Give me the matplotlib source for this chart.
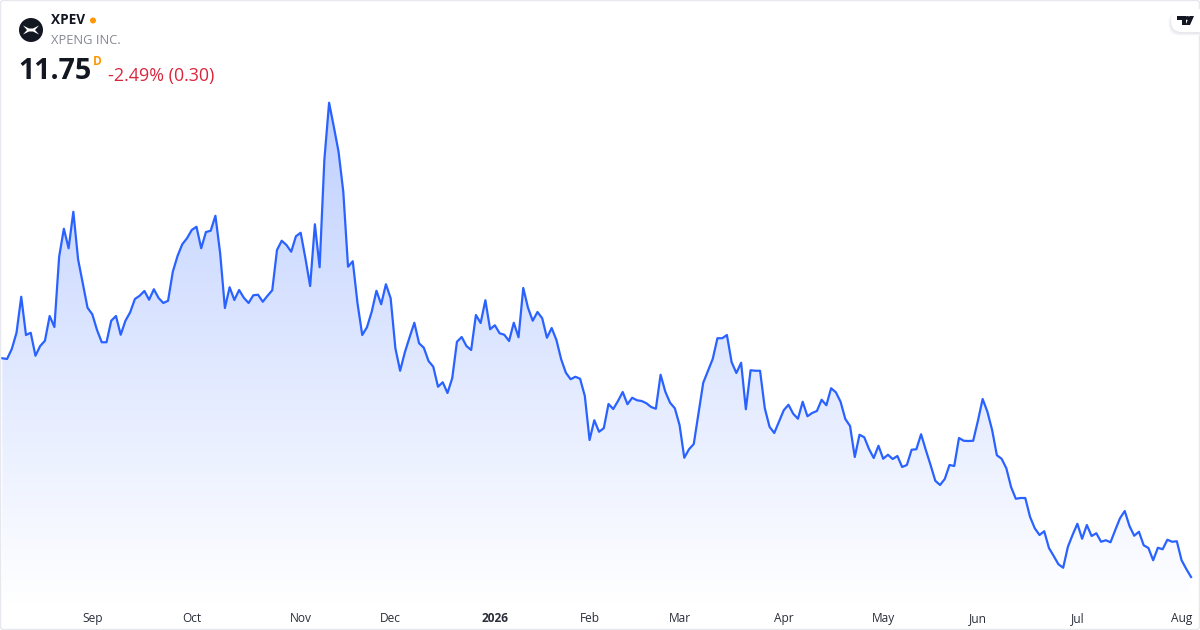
import matplotlib
matplotlib.use('Agg')
import matplotlib.pyplot as plt
import numpy as np
from matplotlib.colors import LinearSegmentedColormap
from matplotlib.patches import Circle, FancyBboxPatch, Polygon

plt.rcParams['font.family'] = ['Open Sans', 'DejaVu Sans']

ticker = 'XPEV'
company = 'XPENG INC.'
last_price = '11.75'
interval = 'D'
change_text = '-2.49% (0.30)'

# daily closes
prices_1 = [20.50, 20.47, 20.87, 21.52, 22.96, 21.43, 21.52, 20.60, 20.99, 21.20, 22.19, 21.75, 24.56,
            25.68, 24.90, 26.36, 24.46, 23.50, 22.52, 22.26, 21.63, 21.14, 21.14, 22.00, 22.19, 21.44,
            22.00, 22.34, 22.87, 23.00, 23.19, 22.84, 23.26, 22.91, 22.71, 22.80, 23.96, 24.59, 25.06,
            25.30, 25.63, 25.76, 24.90, 25.55, 25.60, 26.20, 24.70, 22.51, 23.34, 22.83, 23.23, 22.92,
            22.71, 23.02, 23.04, 22.76, 23.00, 23.22, 24.83, 25.20, 25.03, 24.76, 25.38, 25.52]
prices_2 = [24.50, 23.39, 25.86, 24.14, 28.43, 30.72, 29.76, 28.76, 27.16, 24.16, 24.38, 22.70, 21.43,
            21.74, 22.36, 23.20, 22.66, 23.46, 22.90, 20.90, 20.00, 20.74, 21.34, 21.92, 21.10, 20.92,
            20.39, 20.16, 19.36, 19.54, 19.11, 19.70, 21.16, 21.35, 20.99, 20.83, 22.23, 21.91, 22.82,
            21.66, 21.82, 21.50, 21.44, 21.19, 21.92, 21.34, 23.31, 22.52, 22.00, 22.35, 22.10, 21.32,
            21.71, 21.23, 20.46, 19.92, 19.66, 19.76, 19.68, 18.99, 17.23, 18.02, 17.56]
prices_3 = [17.70, 18.67, 18.47, 18.79, 19.15, 18.66, 18.92, 18.82, 18.79, 18.70, 18.55, 18.48, 19.84,
            19.16, 18.72, 18.50, 17.83, 16.52, 16.86, 17.07, 18.30, 19.52, 20.00, 20.47, 21.30, 21.30,
            21.43, 20.34, 19.91, 20.32, 18.46, 20.02, 20.00, 20.00, 18.50, 17.76, 17.51, 17.96, 18.42,
            18.64, 18.28, 18.08, 18.76, 18.18, 18.31, 18.39, 18.84, 18.62, 19.30, 19.14, 18.76, 18.07,
            17.79, 16.55, 17.44, 17.34, 16.87, 16.51, 17.00, 16.48, 16.64, 16.47, 16.59]
prices_4 = [16.15, 16.23, 16.84, 16.86, 17.46, 16.83, 16.23, 15.60, 15.43, 15.67, 16.23, 16.19, 17.31,
            17.20, 17.19, 17.20, 18.00, 18.87, 18.36, 17.63, 16.62, 16.48, 16.10, 15.35, 14.88, 14.91,
            14.91, 14.16, 13.70, 13.43, 13.58, 12.91, 12.59, 12.26, 12.12, 12.96, 13.44, 13.88, 13.28,
            13.83, 13.39, 13.50, 13.16, 13.22, 13.14, 13.63, 14.10, 14.39, 13.79, 13.40, 13.56, 13.02,
            12.91, 12.42, 12.92, 12.86, 13.24, 13.16, 13.18, 12.42, 12.07, 11.75]
prices = prices_1 + prices_2 + prices_3 + prices_4

tick_days = [19, 40, 63, 82, 104, 124, 143, 165, 186, 206, 227, 249]
tick_labels = ['Sep', 'Oct', 'Nov', 'Dec', '2026', 'Feb', 'Mar', 'Apr', 'May', 'Jun', 'Jul', 'Aug']

days = np.arange(len(prices))

W, H = 1200, 630
step = 4.736
y_min, y_max = 10.71, 34.83
fig = plt.figure(figsize=(12, 6.3), dpi=100, facecolor='white')

# chart axes, one trading day = 4.736px
ax = fig.add_axes([0, 27 / H, 1, (H - 27) / H])
ax.patch.set_visible(False)
for s in ax.spines.values():
    s.set_visible(False)
ax.set_yticks([])
ax.set_xticks(tick_days)
ax.set_xticklabels(tick_labels, fontsize=8.6, color='#2a2e39')
ax.tick_params(axis='x', length=0, pad=6.7)
for lab in ax.get_xticklabels():
    if lab.get_text() == '2026':
        lab.set_fontweight('bold')

# gradient area under the line
cmap = LinearSegmentedColormap.from_list('area', ['#ffffff', '#bfd0ff'])
grad = np.linspace(0, 1, 256).reshape(-1, 1)
img = ax.imshow(grad, origin='lower', aspect='auto', cmap=cmap, vmin=0, vmax=1,
                extent=[days[0], days[-1], y_min, max(prices)], zorder=1)
verts = [(days[0], y_min)] + list(zip(days, prices)) + [(days[-1], y_min)]
poly = Polygon(verts, closed=True, transform=ax.transData, facecolor='none', edgecolor='none')
ax.add_patch(poly)
img.set_clip_path(poly)

ax.plot(days, prices, color='#2962ff', lw=1.6, solid_joinstyle='round', zorder=2)
ax.set_xlim(-2.3 / step, (W - 2.3) / step)
ax.set_ylim(y_min, y_max)

# overlay in pixel coordinates for the header, logos and frame
ov = fig.add_axes([0, 0, 1, 1], zorder=5)
ov.set_xlim(0, W)
ov.set_ylim(H, 0)
ov.axis('off')

ov.add_patch(FancyBboxPatch((0.5, 0.5), W - 1, H - 1, boxstyle='round,pad=0,rounding_size=3',
                            fc='none', ec='#e6e8ee', lw=1))

# symbol logo
ov.add_patch(Circle((31, 30), 12, fc='#131722', ec='none'))
ov.add_patch(Polygon([(23, 25.5), (29, 28.5), (33, 28.5), (39, 25.5), (35, 30), (39, 34.5), (33, 31.5),
                      (29, 31.5), (23, 34.5), (27, 30)], closed=True, fc='white', ec='none'))

ov.text(51, 20.5, ticker, fontsize=9.8, fontweight='bold', color='#131722', va='center', ha='left')
ov.add_patch(Circle((93, 20.5), 3, fc='#ff9800', ec='none'))
ov.text(51, 41, company, fontsize=9.3, color='#868993', va='center', ha='left')
ov.text(18, 71.5, last_price, fontsize=20.6, fontweight='bold', color='#131722', va='center', ha='left')
ov.text(93, 61.5, interval, fontsize=8.6, fontweight='bold', color='#ff9800', va='center', ha='left')
ov.text(108, 75.5, change_text, fontsize=12.85, color='#d9263d', va='center', ha='left')

# tradingview badge
for off, col in [(5, '#f8f8fa'), (3, '#f1f1f4'), (1.5, '#e9e9ed')]:
    ov.add_patch(FancyBboxPatch((1171 - off / 2, 10 + off / 2), 40, 23, boxstyle='round,pad=0,rounding_size=11',
                                fc=col, ec='none', clip_on=True))
ov.add_patch(FancyBboxPatch((1171, 9), 40, 23, boxstyle='round,pad=0,rounding_size=11',
                            fc='white', ec='none', clip_on=True))
ov.add_patch(Polygon([(1177, 16), (1185.5, 16), (1185.5, 25), (1181.5, 25), (1181.5, 20), (1177, 20)],
                     closed=True, fc='#131722', ec='none'))
ov.add_patch(Circle((1187.5, 18), 2, fc='#131722', ec='none'))
ov.add_patch(Polygon([(1189.5, 16), (1194, 16), (1190, 25), (1185.5, 25)],
                     closed=True, fc='#131722', ec='none'))

fig.savefig('out.png', dpi=100, facecolor='white')
